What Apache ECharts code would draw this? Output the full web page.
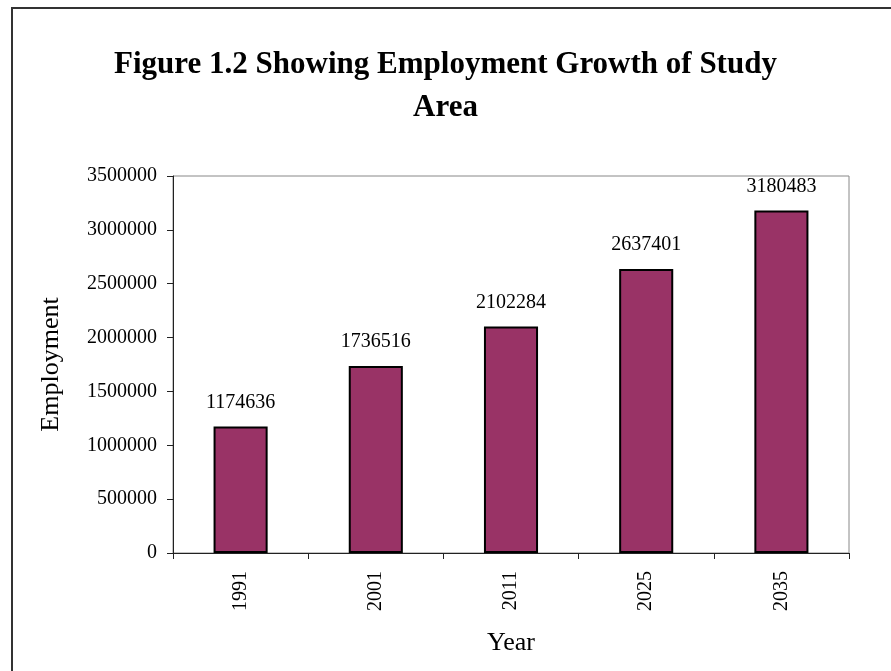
<!DOCTYPE html>
<html>
<head>
<meta charset="utf-8">
<script src="https://cdn.jsdelivr.net/npm/echarts@6/dist/echarts.min.js"></script>
<style>
  html, body { margin: 0; padding: 0; background: #fff; }
  #chart { width: 891px; height: 671px; }
</style>
</head>
<body>
<div id="chart"></div>
<script>
// data
const years = ['1991', '2001', '2011', '2025', '2035'];
const employment = [1174636, 1736516, 2102284, 2637401, 3180483];
const yTicks = { min: 0, max: 3500000, interval: 500000 };

const serif = '"Liberation Serif", "Times New Roman", serif';
const chart = echarts.init(document.getElementById('chart'));

chart.setOption({
  backgroundColor: '#fff',
  animation: false,
  title: {
    text: 'Figure 1.2 Showing Employment Growth of Study\nArea',
    left: 'center',
    top: 38,
    textStyle: { fontFamily: serif, fontSize: 31, fontWeight: 'bold', color: '#000', lineHeight: 43 }
  },
  graphic: [{
    type: 'rect',
    shape: { x: 12, y: 8, width: 900, height: 700 },
    style: { fill: 'none', stroke: '#333', lineWidth: 2 },
    z: 0
  }],
  grid: {
    left: 173, right: 42, top: 176, bottom: 118,
    show: true, borderColor: '#888', borderWidth: 1
  },
  xAxis: {
    type: 'category',
    data: years,
    name: 'Year',
    nameLocation: 'middle',
    nameGap: 77,
    nameTextStyle: { fontFamily: serif, fontSize: 26, color: '#000' },
    axisLine: { lineStyle: { color: '#222', width: 1 } },
    axisTick: { show: true, length: 6, lineStyle: { color: '#222' } },
    axisLabel: { rotate: 90, margin: 18, fontFamily: serif, fontSize: 20, color: '#000' }
  },
  yAxis: {
    type: 'value',
    min: yTicks.min,
    max: yTicks.max,
    interval: yTicks.interval,
    name: 'Employment',
    nameLocation: 'middle',
    nameGap: 109,
    nameTextStyle: { fontFamily: serif, fontSize: 26, color: '#000' },
    axisLine: { show: true, lineStyle: { color: '#222', width: 1 } },
    axisTick: { show: true, length: 6, lineStyle: { color: '#222' } },
    axisLabel: { margin: 16, fontFamily: serif, fontSize: 20, color: '#000', formatter: v => String(v) },
    splitLine: { show: false }
  },
  series: [{
    type: 'bar',
    data: employment,
    barCategoryGap: '60%',
    itemStyle: { color: '#993366', borderColor: '#000', borderWidth: 2 },
    label: {
      show: true,
      position: 'top',
      distance: 14,
      fontFamily: serif,
      fontSize: 20,
      color: '#000'
    }
  }]
});
</script>
</body>
</html>
